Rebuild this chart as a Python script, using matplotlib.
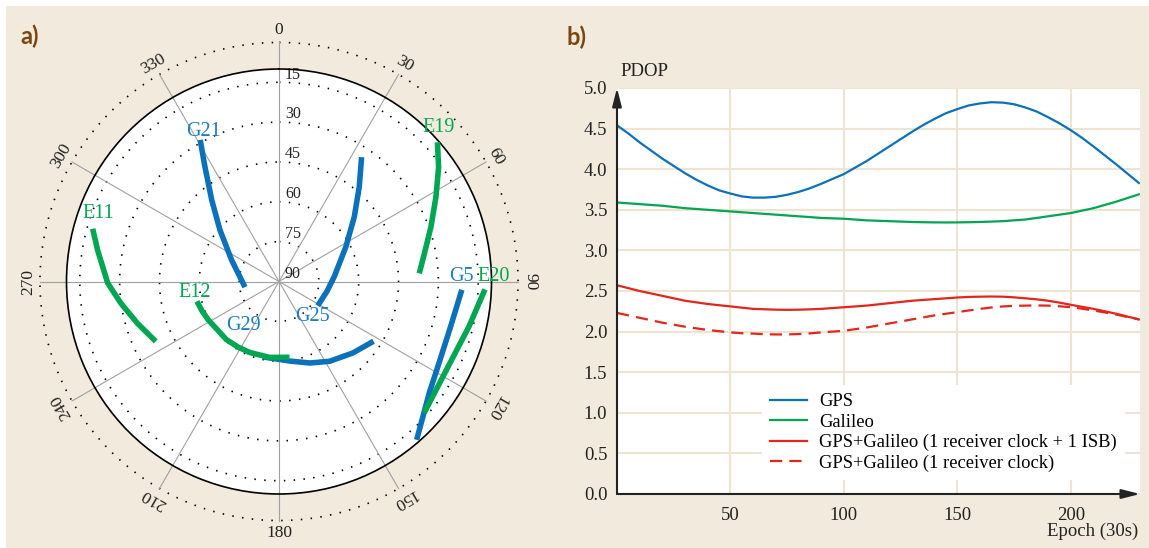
import matplotlib.pyplot as plt
import numpy as np
from matplotlib.patches import Rectangle

plt.rcParams['font.family'] = ['Liberation Serif', 'DejaVu Serif']

# ---- a) skyplot: satellite tracks, azimuth / elevation in degrees ----
g21_az = [330.9, 327.1, 320.4, 311.1, 294.4, 281.0, 260.6]
g21_el = [29.0, 38.7, 50.3, 60.5, 70.4, 74.4, 77.0]
g25_az = [33.6, 40.3, 49.3, 62.5, 84.9, 101.8, 122.0]
g25_el = [33.8, 43.3, 52.6, 61.6, 69.1, 71.6, 72.8]
g29_az = [192.0, 186.7, 171.7, 159.3, 147.5, 134.0, 122.3]
g29_el = [61.0, 61.0, 59.7, 57.2, 54.4, 51.3, 47.9]
g5_az = [92.6, 104.7, 117.0, 126.5, 139.0]
g5_el = [21.1, 23.2, 22.4, 19.6, 11.0]
e11_az = [285.8, 279.8, 269.5, 262.2, 253.6, 244.1]
e11_el = [17.1, 20.7, 25.5, 29.9, 34.4, 38.4]
e12_az = [256.4, 248.9, 241.6, 222.1, 212.0, 202.3, 187.0, 172.1]
e12_el = [58.2, 59.0, 59.7, 60.5, 60.9, 61.1, 61.2, 61.2]
e19_az = [48.7, 54.4, 61.7, 70.2, 77.9, 86.7]
e19_el = [10.6, 16.1, 22.9, 29.2, 33.7, 37.1]
e20_az = [92.2, 103.3, 116.0, 132.1]
e20_el = [12.4, 16.5, 18.7, 16.3]

sat_names = ['G21', 'G25', 'G29', 'G5', 'E11', 'E12', 'E19', 'E20']
label_az = [333.3, 136.2, 219.0, 88.5, 290.6, 262.5, 46.2, 88.7]
label_el = [26.8, 71.7, 68.6, 21.5, 17.3, 58.0, 6.5, 9.1]

elev_ticks = [15, 30, 45, 60, 75, 90]
azim_ticks = [0, 30, 60, 90, 120, 150, 180, 210, 240, 270, 300, 330]

# ---- b) PDOP time series (epochs of 30 s) ----
epoch = list(range(0, 231, 5))
pdop_gps = [4.54, 4.44, 4.33, 4.23, 4.13, 4.04, 3.95, 3.87, 3.80, 3.74, 3.70, 3.665,
            3.65, 3.65, 3.66, 3.685, 3.72, 3.765, 3.82, 3.88, 3.94, 4.02, 4.10, 4.19,
            4.28, 4.37, 4.46, 4.545, 4.62, 4.69, 4.74, 4.785, 4.81, 4.825, 4.82, 4.80,
            4.76, 4.71, 4.64, 4.565, 4.48, 4.385, 4.28, 4.17, 4.06, 3.945, 3.83]
pdop_gal = [3.59, 3.58, 3.57, 3.56, 3.55, 3.535, 3.52, 3.51, 3.50, 3.49, 3.48, 3.47,
            3.46, 3.45, 3.44, 3.43, 3.42, 3.41, 3.40, 3.395, 3.39, 3.38, 3.37, 3.365,
            3.36, 3.355, 3.35, 3.347, 3.345, 3.344, 3.345, 3.347, 3.35, 3.355, 3.36, 3.37,
            3.38, 3.40, 3.42, 3.44, 3.46, 3.49, 3.52, 3.56, 3.60, 3.645, 3.69]
pdop_isb = [2.57, 2.535, 2.50, 2.47, 2.44, 2.41, 2.38, 2.36, 2.34, 2.325, 2.31, 2.295,
            2.28, 2.275, 2.27, 2.268, 2.27, 2.274, 2.28, 2.29, 2.30, 2.31, 2.32, 2.335,
            2.35, 2.365, 2.38, 2.39, 2.40, 2.41, 2.42, 2.427, 2.43, 2.432, 2.43, 2.422,
            2.41, 2.397, 2.38, 2.357, 2.33, 2.305, 2.28, 2.25, 2.22, 2.185, 2.15]
pdop_one = [2.23, 2.20, 2.17, 2.14, 2.11, 2.085, 2.06, 2.04, 2.02, 2.005, 1.99, 1.98,
            1.975, 1.968, 1.965, 1.965, 1.97, 1.978, 1.99, 2.0, 2.01, 2.03, 2.05, 2.075,
            2.10, 2.125, 2.15, 2.175, 2.20, 2.22, 2.24, 2.26, 2.28, 2.297, 2.31, 2.317,
            2.32, 2.322, 2.32, 2.312, 2.30, 2.282, 2.26, 2.236, 2.21, 2.18, 2.15]

BLUE = '#0b71ba'
GREEN = '#00a651'
RED = '#e3261c'
BEIGE = '#f2eadd'
GRID = '#efe3d1'
W, H = 1149, 548

fig = plt.figure(figsize=(W / 100, H / 100), dpi=100, facecolor='white')
fig.patches.append(Rectangle((6 / W, 0), 1, 1 - 6 / H, transform=fig.transFigure,
                             facecolor=BEIGE, edgecolor='none', zorder=-10))

# ----- skyplot -----
cx, cy, rad = 279, 281.5, 212.5
ax = fig.add_axes([(cx - rad) / W, (H - cy - rad) / H, 2 * rad / W, 2 * rad / H],
                  projection='polar')
ax.set_theta_zero_location('N')
ax.set_theta_direction(-1)
ax.set_ylim(0, 80)
ax.set_facecolor('white')
ax.grid(False)
ax.set_xticks([])
ax.set_yticks([])
ax.spines['polar'].set_color('black')
ax.spines['polar'].set_linewidth(1.2)

th = np.linspace(0, 2 * np.pi, 361)
for el in [0, 15, 30, 45, 60, 75]:
    ax.plot(th, np.full_like(th, 90 - el), color='black', lw=1.2,
            linestyle=(0, (0.9, 5.0)), clip_on=False, zorder=1)
for az in azim_ticks:
    t = np.deg2rad(az)
    ax.plot([t, t], [0, 90], color='#a0a0a0', lw=0.8, clip_on=False, zorder=1.5)
    rot = 0 if az in (0, 180) else -az
    ax.text(t, 94.5, str(az), rotation=rot, rotation_mode='anchor', ha='center',
            va='center', fontsize=12.5, color='#222222', clip_on=False)
for el in elev_ticks:
    ax.annotate(str(el), xy=(0, 90 - el), xytext=(4.3, 5.6), textcoords='offset points',
                ha='left', va='center', fontsize=11.5, color='#222222', zorder=2)

tracks = [(g21_az, g21_el, BLUE), (g25_az, g25_el, BLUE), (g5_az, g5_el, BLUE),
          (g29_az, g29_el, BLUE), (e11_az, e11_el, GREEN), (e19_az, e19_el, GREEN),
          (e20_az, e20_el, GREEN), (e12_az, e12_el, GREEN)]
for az, el, col in tracks:
    ax.plot(np.deg2rad(az), 90 - np.array(el), color=col, lw=4.0,
            solid_capstyle='butt', solid_joinstyle='round', zorder=3, clip_on=False)
for name, az, el in zip(sat_names, label_az, label_el):
    col = '#1a7cc2' if name.startswith('G') else GREEN
    ax.text(np.deg2rad(az), 90 - el, name, color=col, fontsize=14.5, ha='center',
            va='center', zorder=4, clip_on=False)

# ----- PDOP -----
bx = fig.add_axes([617 / W, (H - 494) / H, (1140 - 617) / W, 406 / H])
bx.set_facecolor('white')
bx.plot(epoch, pdop_gps, color=BLUE, lw=1.6, label='GPS')
bx.plot(epoch, pdop_gal, color=GREEN, lw=1.6, label='Galileo')
bx.plot(epoch, pdop_isb, color=RED, lw=1.6, label='GPS+Galileo (1 receiver clock + 1 ISB)')
bx.plot(epoch, pdop_one, color=RED, lw=1.6, dashes=(5.5, 3.2),
        label='GPS+Galileo (1 receiver clock)')
bx.set_xlim(0, 230.5)
bx.set_ylim(0, 5)
bx.set_xticks([50, 100, 150, 200])
bx.set_yticks(np.arange(0, 5.01, 0.5))
bx.set_yticklabels(['%.1f' % v for v in np.arange(0, 5.01, 0.5)])
bx.grid(True, color=GRID, lw=1.5)
bx.set_axisbelow(True)
bx.tick_params(length=0, labelsize=13.5, labelcolor='#222222')
bx.tick_params(axis='x', pad=9)
bx.tick_params(axis='y', pad=7)
for s in bx.spines.values():
    s.set_visible(False)
arrow = dict(arrowstyle='-|>,head_length=1.1,head_width=0.28', color='#222222', lw=1.5,
             shrinkA=0, shrinkB=0)
bx.annotate('', xy=(1.0, 0), xytext=(0, 0), xycoords='axes fraction', arrowprops=arrow,
            annotation_clip=False)
bx.annotate('', xy=(0, 1.0), xytext=(0, 0), xycoords='axes fraction', arrowprops=arrow,
            annotation_clip=False)
bx.text(0.006, 1.04, 'PDOP', transform=bx.transAxes, ha='left', va='center',
        fontsize=13.5, color='#222222')
bx.text(0.997, -0.091, 'Epoch (30s)', transform=bx.transAxes, ha='right', va='center',
        fontsize=13.5, color='#222222')
leg = bx.legend(loc='upper left', bbox_to_anchor=(0.2772, 0.2685), fontsize=13.3,
                frameon=True, fancybox=False, framealpha=1, facecolor='white',
                edgecolor='none', borderaxespad=0, borderpad=0.45, handlelength=2.0,
                handletextpad=0.65, labelspacing=0.18)

fig.text(30 / W, 1 - 36 / H, 'a)', fontsize=17, fontweight='bold', color='#7a4712',
         family=['Lato', 'DejaVu Sans'], ha='center', va='center')
fig.text(576 / W, 1 - 37 / H, 'b)', fontsize=17, fontweight='bold', color='#7a4712',
         family=['Lato', 'DejaVu Sans'], ha='center', va='center')

fig.savefig('out.png', dpi=100, facecolor=fig.get_facecolor())
